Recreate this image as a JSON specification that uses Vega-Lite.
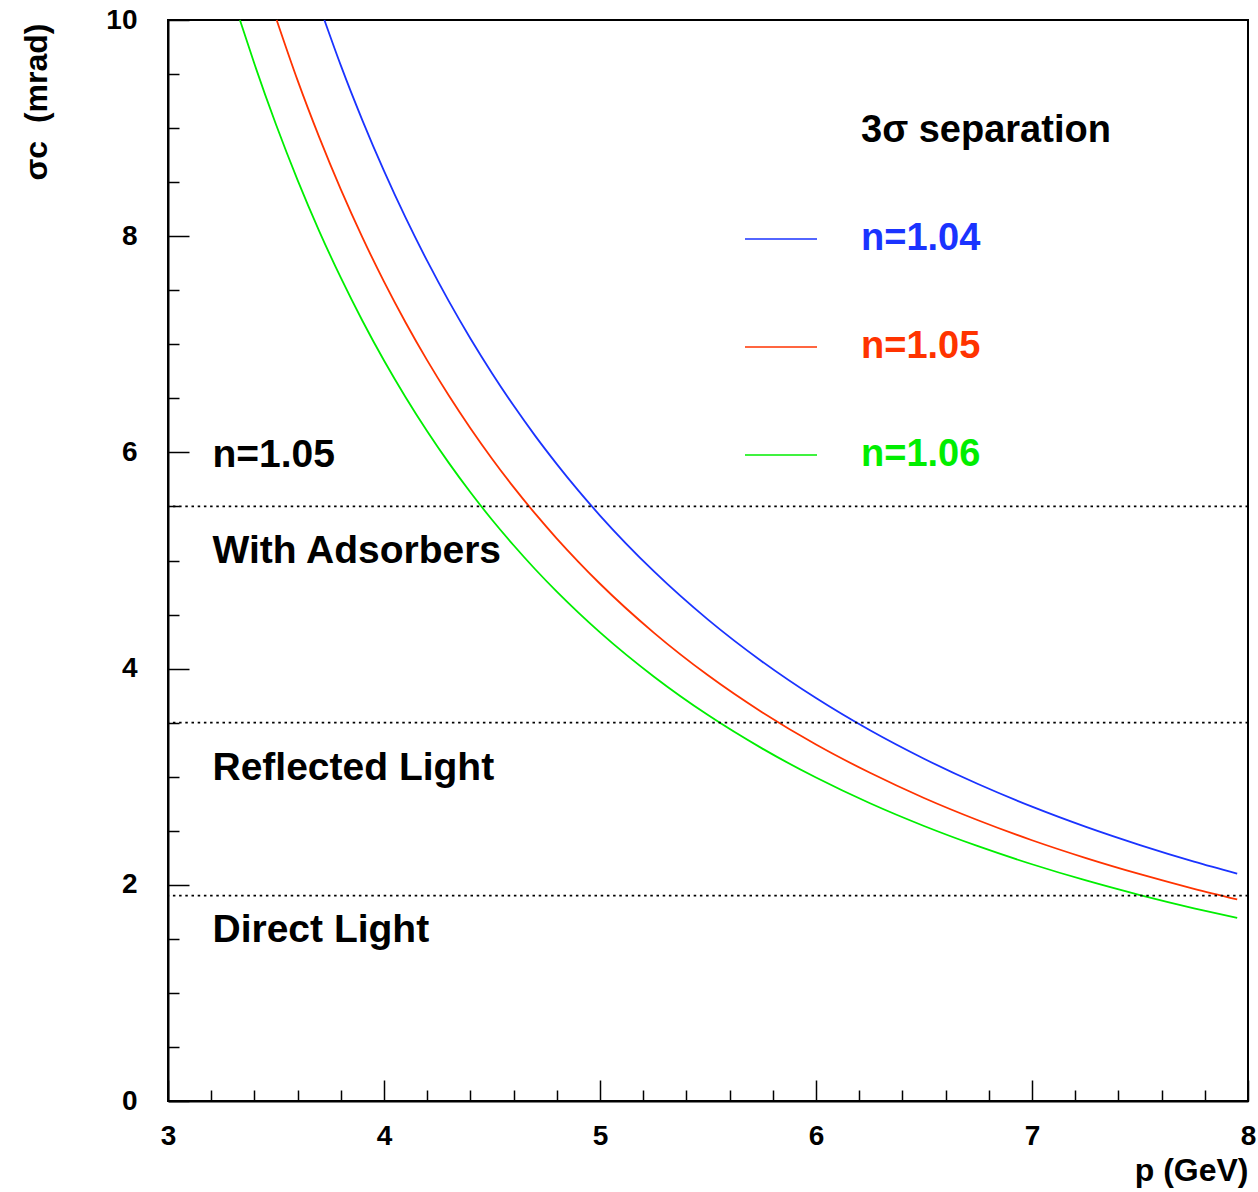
{
  "$schema": "https://vega.github.io/schema/vega-lite/v6.json",
  "width": 1080,
  "height": 1081,
  "autosize": {"type": "none"},
  "padding": {"left": 168, "top": 20, "right": 10, "bottom": 91},
  "background": "white",
  "config": {
    "font": "Liberation Sans",
    "view": {"stroke": "black", "strokeWidth": 2},
    "axis": {
      "grid": false,
      "domainColor": "black",
      "domainWidth": 2,
      "tickColor": "black",
      "tickWidth": 1.5,
      "labelFont": "Liberation Sans",
      "labelFontWeight": "bold",
      "labelFontSize": 28,
      "labelColor": "black",
      "labelFlush": false,
      "labelOverlap": false,
      "titleFont": "Liberation Sans",
      "titleFontWeight": "bold",
      "titleFontSize": 32,
      "titleColor": "black"
    }
  },
  "datasets": {
    "curves": [
      {"p": 3.724, "s": 10.0, "n": "n=1.04"},
      {"p": 3.8, "s": 9.580, "n": "n=1.04"},
      {"p": 3.9, "s": 9.072, "n": "n=1.04"},
      {"p": 4.0, "s": 8.604, "n": "n=1.04"},
      {"p": 4.1, "s": 8.171, "n": "n=1.04"},
      {"p": 4.2, "s": 7.771, "n": "n=1.04"},
      {"p": 4.3, "s": 7.399, "n": "n=1.04"},
      {"p": 4.4, "s": 7.054, "n": "n=1.04"},
      {"p": 4.5, "s": 6.733, "n": "n=1.04"},
      {"p": 4.6, "s": 6.433, "n": "n=1.04"},
      {"p": 4.7, "s": 6.153, "n": "n=1.04"},
      {"p": 4.8, "s": 5.892, "n": "n=1.04"},
      {"p": 4.9, "s": 5.646, "n": "n=1.04"},
      {"p": 5.0, "s": 5.416, "n": "n=1.04"},
      {"p": 5.25, "s": 4.899, "n": "n=1.04"},
      {"p": 5.5, "s": 4.453, "n": "n=1.04"},
      {"p": 5.75, "s": 4.066, "n": "n=1.04"},
      {"p": 6.0, "s": 3.727, "n": "n=1.04"},
      {"p": 6.25, "s": 3.429, "n": "n=1.04"},
      {"p": 6.5, "s": 3.166, "n": "n=1.04"},
      {"p": 6.75, "s": 2.932, "n": "n=1.04"},
      {"p": 7.0, "s": 2.723, "n": "n=1.04"},
      {"p": 7.25, "s": 2.536, "n": "n=1.04"},
      {"p": 7.5, "s": 2.368, "n": "n=1.04"},
      {"p": 7.75, "s": 2.215, "n": "n=1.04"},
      {"p": 7.95, "s": 2.104, "n": "n=1.04"},
      {"p": 3.503, "s": 10.0, "n": "n=1.05"},
      {"p": 3.6, "s": 9.441, "n": "n=1.05"},
      {"p": 3.7, "s": 8.916, "n": "n=1.05"},
      {"p": 3.8, "s": 8.433, "n": "n=1.05"},
      {"p": 3.9, "s": 7.989, "n": "n=1.05"},
      {"p": 4.0, "s": 7.580, "n": "n=1.05"},
      {"p": 4.1, "s": 7.202, "n": "n=1.05"},
      {"p": 4.2, "s": 6.851, "n": "n=1.05"},
      {"p": 4.3, "s": 6.526, "n": "n=1.05"},
      {"p": 4.4, "s": 6.224, "n": "n=1.05"},
      {"p": 4.5, "s": 5.942, "n": "n=1.05"},
      {"p": 4.6, "s": 5.679, "n": "n=1.05"},
      {"p": 4.7, "s": 5.433, "n": "n=1.05"},
      {"p": 4.8, "s": 5.203, "n": "n=1.05"},
      {"p": 4.9, "s": 4.988, "n": "n=1.05"},
      {"p": 5.0, "s": 4.785, "n": "n=1.05"},
      {"p": 5.25, "s": 4.331, "n": "n=1.05"},
      {"p": 5.5, "s": 3.938, "n": "n=1.05"},
      {"p": 5.75, "s": 3.597, "n": "n=1.05"},
      {"p": 6.0, "s": 3.298, "n": "n=1.05"},
      {"p": 6.25, "s": 3.036, "n": "n=1.05"},
      {"p": 6.5, "s": 2.803, "n": "n=1.05"},
      {"p": 6.75, "s": 2.597, "n": "n=1.05"},
      {"p": 7.0, "s": 2.412, "n": "n=1.05"},
      {"p": 7.25, "s": 2.247, "n": "n=1.05"},
      {"p": 7.5, "s": 2.098, "n": "n=1.05"},
      {"p": 7.75, "s": 1.963, "n": "n=1.05"},
      {"p": 7.95, "s": 1.865, "n": "n=1.05"},
      {"p": 3.333, "s": 10.0, "n": "n=1.06"},
      {"p": 3.4, "s": 9.595, "n": "n=1.06"},
      {"p": 3.5, "s": 9.033, "n": "n=1.06"},
      {"p": 3.6, "s": 8.519, "n": "n=1.06"},
      {"p": 3.7, "s": 8.048, "n": "n=1.06"},
      {"p": 3.8, "s": 7.616, "n": "n=1.06"},
      {"p": 3.9, "s": 7.218, "n": "n=1.06"},
      {"p": 4.0, "s": 6.850, "n": "n=1.06"},
      {"p": 4.1, "s": 6.511, "n": "n=1.06"},
      {"p": 4.2, "s": 6.196, "n": "n=1.06"},
      {"p": 4.3, "s": 5.903, "n": "n=1.06"},
      {"p": 4.4, "s": 5.631, "n": "n=1.06"},
      {"p": 4.5, "s": 5.377, "n": "n=1.06"},
      {"p": 4.6, "s": 5.141, "n": "n=1.06"},
      {"p": 4.7, "s": 4.919, "n": "n=1.06"},
      {"p": 4.8, "s": 4.712, "n": "n=1.06"},
      {"p": 4.9, "s": 4.518, "n": "n=1.06"},
      {"p": 5.0, "s": 4.335, "n": "n=1.06"},
      {"p": 5.25, "s": 3.925, "n": "n=1.06"},
      {"p": 5.5, "s": 3.570, "n": "n=1.06"},
      {"p": 5.75, "s": 3.262, "n": "n=1.06"},
      {"p": 6.0, "s": 2.992, "n": "n=1.06"},
      {"p": 6.25, "s": 2.754, "n": "n=1.06"},
      {"p": 6.5, "s": 2.544, "n": "n=1.06"},
      {"p": 6.75, "s": 2.357, "n": "n=1.06"},
      {"p": 7.0, "s": 2.190, "n": "n=1.06"},
      {"p": 7.25, "s": 2.040, "n": "n=1.06"},
      {"p": 7.5, "s": 1.905, "n": "n=1.06"},
      {"p": 7.75, "s": 1.783, "n": "n=1.06"},
      {"p": 7.95, "s": 1.694, "n": "n=1.06"}
    ]
  },
  "resolve": {"axis": {"x": "independent", "y": "independent"}},
  "layer": [
    {
      "data": {"name": "curves"},
      "mark": {"type": "line", "strokeWidth": 1.8, "interpolate": "monotone"},
      "encoding": {
        "x": {
          "field": "p", "type": "quantitative",
          "scale": {"domain": [3, 8], "nice": false, "zero": false},
          "axis": {
            "orient": "bottom",
            "values": [3, 4, 5, 6, 7, 8],
            "tickSize": -21,
            "labelPadding": 42,
            "title": "p (GeV)",
            "titleAnchor": "end",
            "titleAlign": "right",
            "titleBaseline": "alphabetic",
            "titleX": 1080,
            "titleY": 79
          }
        },
        "y": {
          "field": "s", "type": "quantitative",
          "scale": {"domain": [0, 10], "nice": false},
          "axis": {
            "orient": "left",
            "values": [0, 2, 4, 6, 8, 10],
            "tickSize": -21,
            "labelPadding": 52,
            "title": "σc\u00a0\u00a0(mrad)",
            "titleAnchor": "end",
            "titleAlign": "right",
            "titleBaseline": "alphabetic",
            "titleAngle": -90,
            "titleX": -122,
            "titleY": 3
          }
        },
        "color": {
          "field": "n", "type": "nominal",
          "scale": {
            "domain": ["3σ separation", "n=1.04", "n=1.05", "n=1.06"],
            "range": ["black", "#1a33ff", "#ff3300", "#00ee00"]
          },
          "legend": {
            "title": null,
            "orient": "none",
            "legendX": 576,
            "legendY": 74,
            "padding": 0,
            "symbolType": "stroke",
            "symbolSize": 5184,
            "symbolStrokeWidth": 1.5,
            "labelOffset": 43,
            "labelFont": "Liberation Sans",
            "labelFontWeight": "bold",
            "labelFontSize": 38,
            "labelLimit": 400,
            "rowPadding": 52,
            "encode": {
              "labels": {"update": {"fill": {"signal": "scale('color', datum.value)"}}},
              "symbols": {"update": {"strokeOpacity": {"signal": "datum.value === '3σ separation' ? 0 : 1"}}}
            }
          }
        }
      }
    },
    {
      "data": {"name": "curves"},
      "mark": {"type": "line", "strokeOpacity": 0, "strokeWidth": 0},
      "encoding": {
        "detail": {"field": "n", "type": "nominal"},
        "x": {
          "field": "p", "type": "quantitative",
          "axis": {
            "orient": "bottom",
            "values": [3.2, 3.4, 3.6, 3.8, 4.2, 4.4, 4.6, 4.8, 5.2, 5.4, 5.6, 5.8, 6.2, 6.4, 6.6, 6.8, 7.2, 7.4, 7.6, 7.8],
            "tickSize": -11,
            "labels": false,
            "domain": false,
            "title": null
          }
        },
        "y": {
          "field": "s", "type": "quantitative",
          "axis": {
            "orient": "left",
            "values": [0.5, 1, 1.5, 2.5, 3, 3.5, 4.5, 5, 5.5, 6.5, 7, 7.5, 8.5, 9, 9.5],
            "tickSize": -11,
            "labels": false,
            "domain": false,
            "title": null
          }
        }
      }
    },
    {
      "data": {"values": [{"level": 5.5}, {"level": 3.5}, {"level": 1.9}]},
      "mark": {"type": "rule", "color": "black", "strokeWidth": 1.8, "strokeDash": [2.5, 3.7]},
      "encoding": {
        "y": {"field": "level", "type": "quantitative", "axis": null}
      }
    },
    {
      "data": {"values": [
        {"label": "n=1.05", "px": 3.206, "sy": 5.868},
        {"label": "With Adsorbers", "px": 3.206, "sy": 4.974},
        {"label": "Reflected Light", "px": 3.206, "sy": 2.970},
        {"label": "Direct Light", "px": 3.206, "sy": 1.474}
      ]},
      "mark": {"type": "text", "align": "left", "baseline": "alphabetic", "font": "Liberation Sans", "fontWeight": "bold", "fontSize": 39, "color": "black"},
      "encoding": {
        "x": {"field": "px", "type": "quantitative", "axis": null},
        "y": {"field": "sy", "type": "quantitative", "axis": null},
        "text": {"field": "label"}
      }
    }
  ]
}
